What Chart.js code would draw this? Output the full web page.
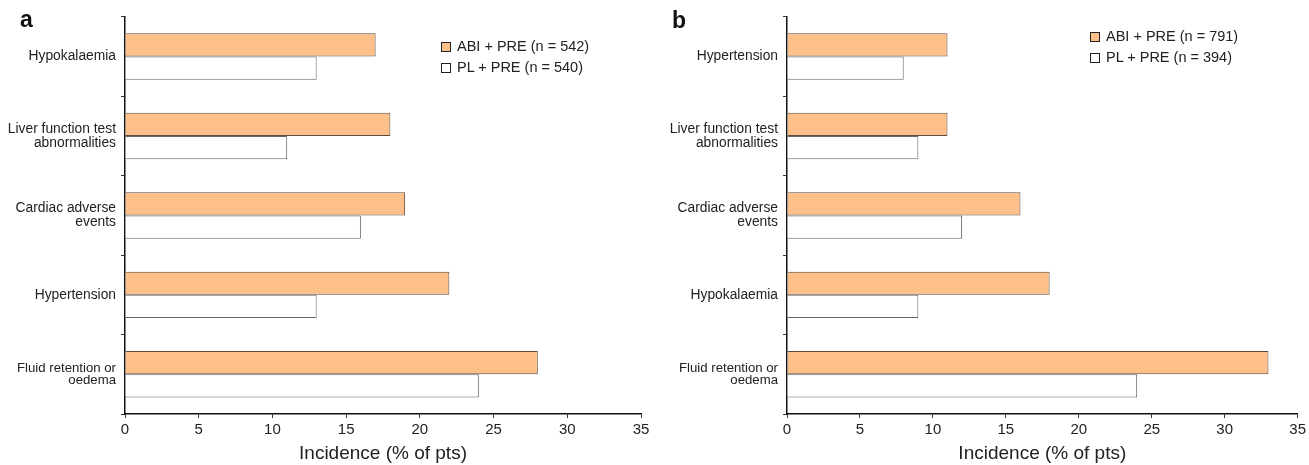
<!DOCTYPE html>
<html>
<head>
<meta charset="utf-8">
<script src="https://cdn.jsdelivr.net/npm/chart.js@4"></script>
<style>
  body { margin: 0; background: #fff; font-family: "Liberation Sans", Arial, sans-serif; }
  .panel { position: absolute; top: 0; height: 465px; }
  .letter { position: absolute; font-weight: bold; font-size: 23px; color: #111; }
  .legend { position: absolute; font-size: 14.5px; color: #222; line-height: 21px; white-space: nowrap; }
  .legend span.box { display: inline-block; width: 8px; height: 8px; border: 1.5px solid #222; margin-right: 6px; vertical-align: -1px; }
</style>
</head>
<body>
<div class="panel" style="left:0;width:655px"><canvas id="chartA"></canvas></div>
<div class="panel" style="left:655px;width:654px"><canvas id="chartB"></canvas></div>
<div class="letter" style="left:20px;top:6px">a</div>
<div class="letter" style="left:672px;top:7px">b</div>
<div class="legend" id="legendA" style="left:441px;top:36px"></div>
<div class="legend" id="legendB" style="left:1090px;top:26px"></div>
<script>
var labelsA = ['Hypokalaemia', ['Liver function test', 'abnormalities'], ['Cardiac adverse', 'events'], 'Hypertension', ['Fluid retention or', 'oedema']]
var abiA = [17, 18, 19, 22, 28]
var plA = [13, 11, 16, 13, 24]
var seriesA = ['ABI + PRE (n = 542)', 'PL + PRE (n = 540)']

var labelsB = ['Hypertension', ['Liver function test', 'abnormalities'], ['Cardiac adverse', 'events'], 'Hypokalaemia', ['Fluid retention or', 'oedema']]
var abiB = [11, 11, 16, 18, 33]
var plB = [8, 9, 12, 9, 24]
var seriesB = ['ABI + PRE (n = 791)', 'PL + PRE (n = 394)']

var xTicks = [0, 5, 10, 15, 20, 25, 30, 35]

var orange = '#fec08a'
var orangeBorder = '#5e4a3a'
var whiteBorder = '#666666'

function renderLegend(id, names) {
    var fills = [orange, '#ffffff']
    var html = ''
    names.forEach(function (n, i) {
        html += '<div><span class="box" style="background:' + fills[i] + '"></span>' + n + '</div>'
    })
    document.getElementById(id).innerHTML = html
}

function renderPanel(canvas_id, labels, abi, pl, names, yWidth, padRight) {
    return new Chart(document.getElementById(canvas_id), {
        type: 'bar',
        data: {
            labels: labels,
            datasets: [{
                label: names[0],
                data: abi,
                backgroundColor: orange,
                borderColor: orangeBorder,
                borderWidth: 1,
                borderSkipped: 'start'
            }, {
                label: names[1],
                data: pl,
                backgroundColor: '#ffffff',
                borderColor: whiteBorder,
                borderWidth: 1,
                borderSkipped: 'start'
            }]
        },
        options: {
            indexAxis: 'y',
            responsive: true,
            maintainAspectRatio: false,
            animation: false,
            layout: { padding: { top: 16, right: padRight, left: 0, bottom: 0 } },
            datasets: { bar: { categoryPercentage: 0.585, barPercentage: 1.0 } },
            plugins: { legend: { display: false }, tooltip: { enabled: false } },
            scales: {
                x: {
                    min: 0,
                    max: 35,
                    afterBuildTicks: function (scale) {
                        scale.ticks = xTicks.map(function (v) { return { value: v } })
                    },
                    afterFit: function (scale) { scale.height = 51 },
                    border: { display: true, color: '#111', width: 1.5 },
                    grid: { drawOnChartArea: false, drawTicks: true, tickLength: 4, color: '#333' },
                    ticks: { color: '#222', font: { family: 'Liberation Sans', size: 15 }, padding: 3, maxRotation: 0 },
                    title: {
                        display: true,
                        text: 'Incidence (% of pts)',
                        color: '#222',
                        font: { family: 'Liberation Sans', size: 19 },
                        padding: { top: 0, bottom: 0 }
                    }
                },
                y: {
                    afterFit: function (scale) { scale.width = yWidth },
                    border: { display: true, color: '#111', width: 1.5 },
                    grid: { drawOnChartArea: false, drawTicks: true, tickLength: 4, offset: true, color: '#333' },
                    ticks: {
                        color: '#222',
                        padding: 5,
                        font: function (ctx) {
                            if (ctx.index === 4) return { family: 'Liberation Sans', size: 13.2, lineHeight: 0.9 }
                            return { family: 'Liberation Sans', size: 13.8, lineHeight: 1.0 }
                        }
                    }
                }
            }
        }
    })
}

renderPanel('chartA', labelsA, abiA, plA, seriesA, 125, 14)
renderPanel('chartB', labelsB, abiB, plB, seriesB, 132, 11)
renderLegend('legendA', seriesA)
renderLegend('legendB', seriesB)
</script>
</body>
</html>
